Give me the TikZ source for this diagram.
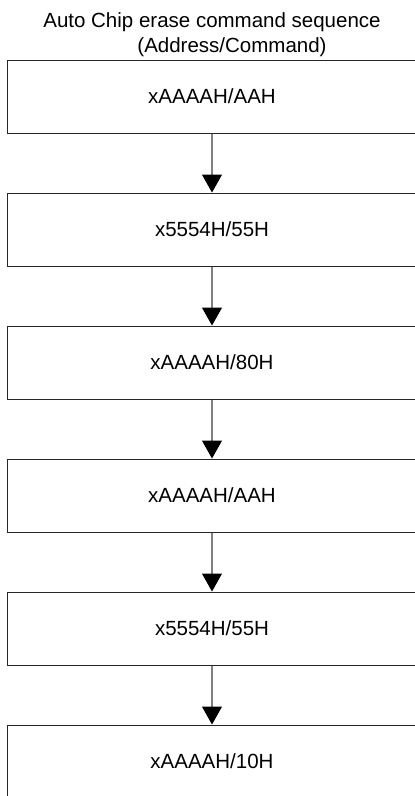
\documentclass[tikz,border=0pt]{standalone}
\usepackage{fontspec}
\setmainfont{Liberation Sans}
\usetikzlibrary{arrows.meta}
\tikzset{
  stepbox/.style={draw=black!85, line width=1pt, minimum width=409pt, minimum height=73pt,
    inner sep=0pt, font=\fontsize{20.5}{25}\selectfont},
  caption/.style={inner sep=0pt, font=\fontsize{20.5}{25}\selectfont},
  flow/.style={draw=black!50, line width=1.2pt,
    -{Triangle[width=20pt,length=18pt,color=black,fill=black]}, shorten >=0pt}
}
\begin{document}
\begin{tikzpicture}[x=1pt,y=-1pt]
  \useasboundingbox (0,0) rectangle (415,796);
  \clip (0,0) rectangle (415,796);
  \fill[white] (0,0) rectangle (415,796);
  % heading
  \node[caption] (t1) at (212,22) {Auto Chip erase command sequence};
  \node[caption] (t2) at (232,47) {(Address/Command)};
  % command steps, one per bus cycle
  \node[stepbox] (s1) at (212,96.5) {xAAAAH/AAH};
  \node[stepbox] (s2) at (212,229.5) {x5554H/55H};
  \node[stepbox] (s3) at (212,362.5) {xAAAAH/80H};
  \node[stepbox] (s4) at (212,495.5) {xAAAAH/AAH};
  \node[stepbox] (s5) at (212,628.5) {x5554H/55H};
  \node[stepbox] (s6) at (212,761.5) {xAAAAH/10H};
  % sequence arrows
  \foreach \a/\b in {s1/s2,s2/s3,s3/s4,s4/s5,s5/s6}
    \draw[flow] (\a.south) -- (\b.north);
\end{tikzpicture}
\end{document}
